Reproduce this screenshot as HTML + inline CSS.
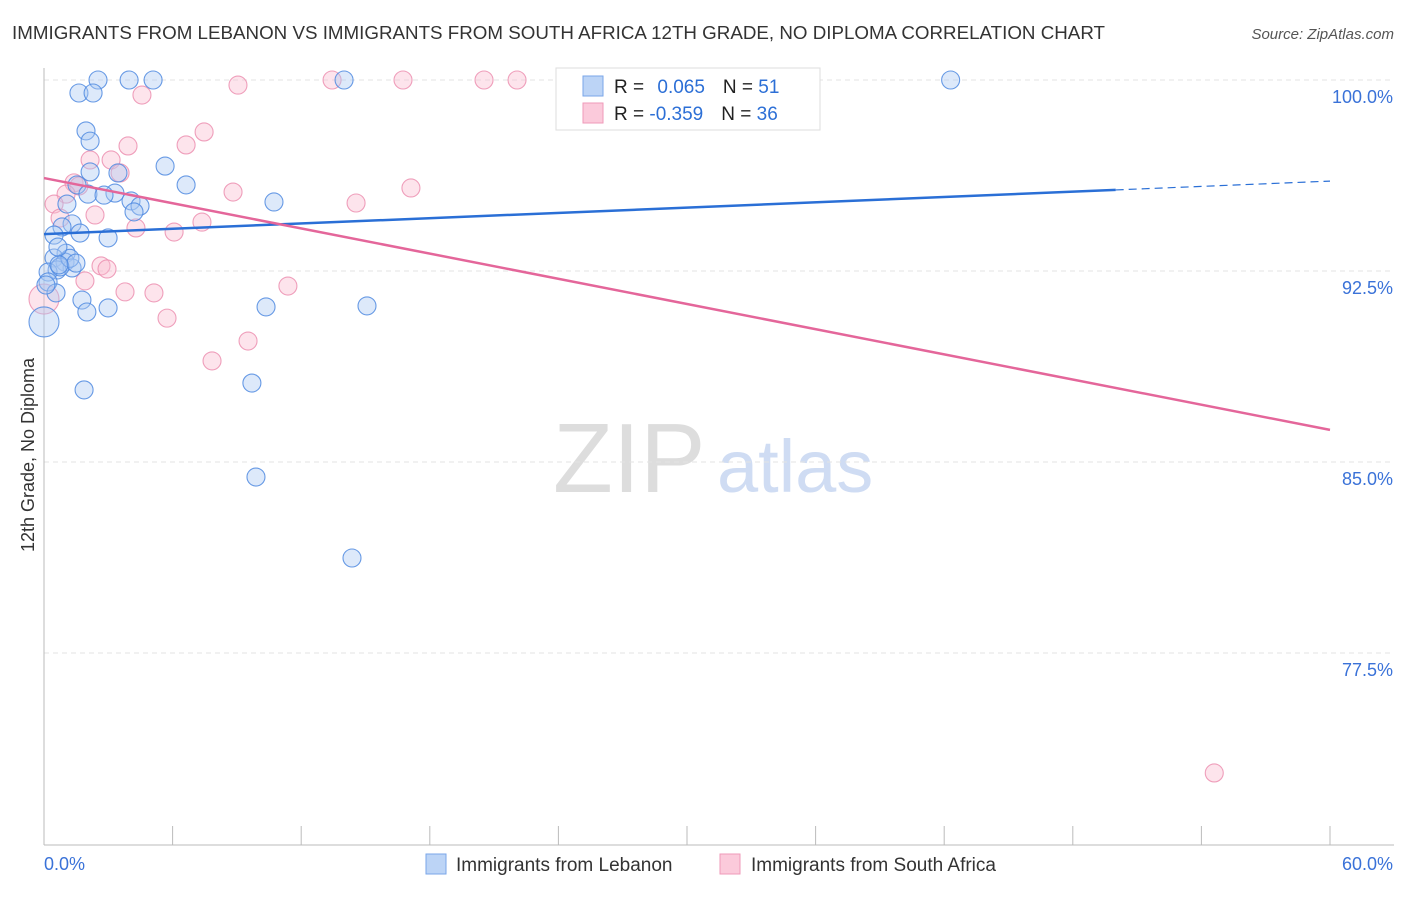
<!DOCTYPE html>
<html><head><meta charset="utf-8"><style>
body{margin:0;background:#fff;font-family:"Liberation Sans",sans-serif}
svg text{font-family:"Liberation Sans",sans-serif}
</style></head><body>
<svg id="c" width="1406" height="892">
<text x="12" y="39" font-size="18.5" fill="#333" textLength="1093" lengthAdjust="spacingAndGlyphs">IMMIGRANTS FROM LEBANON VS IMMIGRANTS FROM SOUTH AFRICA 12TH GRADE, NO DIPLOMA CORRELATION CHART</text>
<text x="1394" y="39" font-size="15" fill="#555" text-anchor="end" font-style="italic">Source: ZipAtlas.com</text>
<text x="0" y="0" transform="translate(34,455) rotate(-90)" font-size="18" fill="#333" text-anchor="middle">12th Grade, No Diploma</text>
<text x="553" y="492" font-size="98" fill="#ddd" font-family="Liberation Serif">ZIP</text>
<text x="717" y="492" font-size="74" fill="#cfdcf3">atlas</text>
<g id="grid"></g><g id="pts"></g><g id="lines"></g>
<g>
<rect x="556" y="68" width="264" height="62" fill="#fff" stroke="#ddd"/>
<rect x="583" y="76" width="20" height="20" fill="#bcd4f6" stroke="#7aa6e8"/>
<rect x="583" y="103" width="20" height="20" fill="#fbcadb" stroke="#ef9ab8"/>
<text x="614" y="93" font-size="19" fill="#222">R = <tspan fill="#2c6fd6" dx="8">0.065</tspan><tspan dx="18" fill="#222">N = </tspan><tspan fill="#2c6fd6">51</tspan></text>
<text x="614" y="120" font-size="19" fill="#222">R = <tspan fill="#2c6fd6">-0.359</tspan><tspan dx="18" fill="#222">N = </tspan><tspan fill="#2c6fd6">36</tspan></text>
</g>
<g>
<rect x="426" y="854" width="20" height="20" fill="#bcd4f6" stroke="#7aa6e8"/>
<text x="456" y="871" font-size="19" fill="#333">Immigrants from Lebanon</text>
<rect x="720" y="854" width="20" height="20" fill="#fbcadb" stroke="#ef9ab8"/>
<text x="751" y="871" font-size="19" fill="#333">Immigrants from South Africa</text>
</g>
</svg>
<script>
const yTicks=[100,92.5,85,77.5];
const yTickLabels=["100.0%","92.5%","85.0%","77.5%"];
const xTickLabels=["0.0%","60.0%"];
const blueX=[2.52,3.97,5.09,14.0,42.3,1.63,2.29,1.96,2.15,5.65,6.63,3.45,2.15,1.54,3.31,2.05,4.06,4.48,4.2,10.73,1.07,1.31,0.84,1.68,0.47,2.99,1.03,0.47,0.98,1.31,0.61,0.19,0.75,0.19,0.56,1.77,2.99,2.0,10.36,15.07,0,1.87,9.7,9.89,14.37,1.21,1.49,0.7,0.09,0.65,2.8];
const blueY=[100,100,100,100,100,99.49,99.49,98.0,97.6,96.62,95.88,96.35,96.39,95.88,95.56,95.52,95.25,95.05,94.82,95.21,95.13,94.35,94.23,93.99,93.91,93.8,93.2,93.01,92.85,92.62,92.54,92.46,92.66,92.07,91.64,91.36,91.05,90.89,91.09,91.13,90.5,87.83,88.1,84.41,81.23,93.0,92.81,92.74,91.95,93.44,95.48];
const pinkX=[9.05,4.57,13.44,16.75,20.53,22.07,33.5,7.47,6.63,3.92,2.15,3.13,3.55,1.4,1.63,1.03,8.82,17.12,0.47,2.38,14.56,0.75,7.37,4.29,6.07,2.66,2.94,1.91,3.78,5.13,11.38,5.74,9.52,7.84,0,54.6];
const pinkY=[99.8,99.41,100,100,100,100,100,97.96,97.45,97.41,96.86,96.86,96.35,95.96,95.84,95.52,95.6,95.76,95.13,94.7,95.17,94.58,94.42,94.19,94.03,92.7,92.58,92.11,91.68,91.64,91.91,90.65,89.75,88.97,91.4,72.79];
const blueTrend=[93.95,96.03];
const pinkTrend=[96.15,86.26];
const NS="http://www.w3.org/2000/svg";
const X=v=>44+v*1286/60, Y=v=>80+(100-v)*191/7.5;
function mk(t,a,p){const e=document.createElementNS(NS,t);for(const k in a)e.setAttribute(k,a[k]);p.appendChild(e);return e;}
const g=document.getElementById('grid');
yTicks.forEach((t,i)=>{
 const l=mk('line',{x1:44,x2:1394,y1:Y(t),y2:Y(t),stroke:'#e3e3e3','stroke-dasharray':'5,4'},g);
 
 
 const tx=mk('text',{x:1393,y:Y(t)+23,'font-size':18,fill:'#3a72d8','text-anchor':'end'},g);
 tx.textContent=yTickLabels[i];
 
 
});
const ax=mk('line',{x1:44,x2:44,y1:68,y2:845,stroke:'#bbb'},g);


const bx=mk('line',{x1:44,x2:1394,y1:845,y2:845,stroke:'#bbb'},g);


for(let i=0;i<=10;i++){const t=mk('line',{x1:X(i*6),x2:X(i*6),y1:826,y2:845,stroke:'#bbb'},g);
 
 }
[[0,'start',44],[60,'end',1393]].forEach((d,i)=>{const t=mk('text',{x:d[2],y:870,'font-size':18,fill:'#3a72d8','text-anchor':d[1]},g);t.textContent=xTickLabels[i];
 
 });
const p=document.getElementById('pts');
function dots(xs,ys,fill,stroke,name){xs.forEach((x,i)=>{const big=(x===0);const c=mk('circle',{cx:X(x),cy:Y(ys[i]),r:big?15:9,fill:fill,'fill-opacity':0.4,stroke:stroke,'stroke-width':1.1,'stroke-opacity':0.85},p);
 
 });}
dots(pinkX,pinkY,'#f9bcd0','#ec8fb0','south-africa-point');
dots(blueX,blueY,'#a9c8f2','#4f8ae0','lebanon-point');
const L=document.getElementById('lines');
const bxEnd=50;
const b1=mk('line',{x1:X(0),y1:Y(blueTrend[0]),x2:X(bxEnd),y2:Y(blueTrend[0]+(blueTrend[1]-blueTrend[0])*bxEnd/60),stroke:'#2a6fd6','stroke-width':2.5},L);


const b2=mk('line',{x1:X(bxEnd),y1:Y(blueTrend[0]+(blueTrend[1]-blueTrend[0])*bxEnd/60),x2:X(60),y2:Y(blueTrend[1]),stroke:'#2a6fd6','stroke-width':1.2,'stroke-dasharray':'8,5'},L);


const p1=mk('line',{x1:X(0),y1:Y(pinkTrend[0]),x2:X(60),y2:Y(pinkTrend[1]),stroke:'#e4669a','stroke-width':2.5},L);


</script>
</body></html>
